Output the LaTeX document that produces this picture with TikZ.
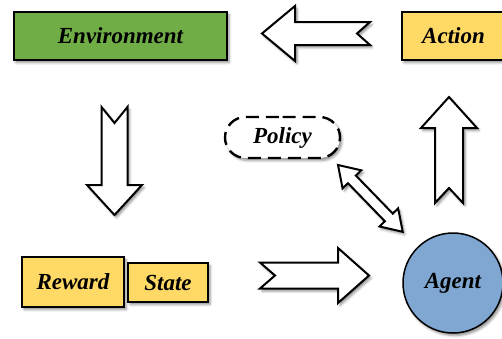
\documentclass[tikz,border=0pt]{standalone}
\usepackage{fontspec}
\setmainfont{Liberation Serif}
\usetikzlibrary{shapes.misc,shadows.blur}

\definecolor{envgreen}{HTML}{70AD47}
\definecolor{boxyellow}{HTML}{FFD966}
\definecolor{agentblue}{HTML}{80A7D2}

\tikzset{
  soft shadow/.style={blur shadow={shadow xshift=2pt,shadow yshift=-2.5pt,
      shadow blur radius=2.5pt,shadow opacity=45}},
  label text/.style={font=\fontsize{23}{27}\selectfont\bfseries\itshape},
  box/.style={rectangle,draw=black,line width=1.8pt,inner sep=0pt,
      soft shadow,label text},
  arrow outline/.style={draw=black,fill=white,line width=2pt,
      line join=miter,soft shadow},
  % block arrow along +x: length, shaft half width, head half width,
  % head length, tail notch depth
  pics/single block/.style n args={5}{code={
    \path[arrow outline] (0,#2) -- ({#1-#4},#2) -- ({#1-#4},#3) -- (#1,0)
      -- ({#1-#4},-#3) -- ({#1-#4},-#2) -- (0,-#2) -- (#5,0) -- cycle;
  }},
  % two-headed block arrow along +x: length, shaft half width,
  % head half width, head length
  pics/double block/.style n args={4}{code={
    \path[arrow outline] (0,0) -- (#4,#3) -- (#4,#2) -- ({#1-#4},#2)
      -- ({#1-#4},#3) -- (#1,0) -- ({#1-#4},-#3) -- ({#1-#4},-#2)
      -- (#4,-#2) -- (#4,-#3) -- cycle;
  }},
}

\begin{document}
\begin{tikzpicture}[x=1pt,y=1pt]
  \useasboundingbox (0,0) rectangle (502,-338);
  \clip (0,0) rectangle (502,-338);

  % boxes
  \node[box,fill=envgreen,minimum width=213pt,minimum height=48pt]
    (env) at (120.5,-36) {Environment};
  \node[box,fill=boxyellow,minimum width=103pt,minimum height=48pt]
    (action) at (453.5,-36) {Action};
  \node[box,fill=boxyellow,minimum width=102pt,minimum height=50pt]
    (reward) at (73,-282) {Reward};
  \node[box,fill=boxyellow,minimum width=80pt,minimum height=39pt]
    (state) at (168,-282.5) {State};
  \node[rounded rectangle,draw=black,fill=white,line width=2.4pt,
        dash pattern=on 13pt off 7pt,minimum width=115pt,minimum height=41pt,
        inner sep=0pt,soft shadow,label text]
    (policy) at (282.5,-137.5) {Policy};
  \node[circle,draw=black,fill=agentblue,line width=1.5pt,
        minimum size=100pt,inner sep=0pt,soft shadow,label text]
    (agent) at (453,-283) {Agent};

  % block arrows of the loop
  \pic[rotate=180] (toenv) at (370,-33.5) {single block={108}{11.5}{27.5}{33}{13}};
  \pic[rotate=-90] (tostate) at (114.5,-107) {single block={108}{13}{27.5}{30}{16}};
  \pic (toagent) at (260,-275.5) {single block={109}{13}{27.5}{31}{15}};
  \pic[rotate=90] (toaction) at (449,-203) {single block={106}{14}{28}{31}{15}};

  % policy <-> agent
  \pic[rotate=-45.9] (policylink) at (338,-165) {double block={93}{5.5}{13}{20}};
\end{tikzpicture}
\end{document}
